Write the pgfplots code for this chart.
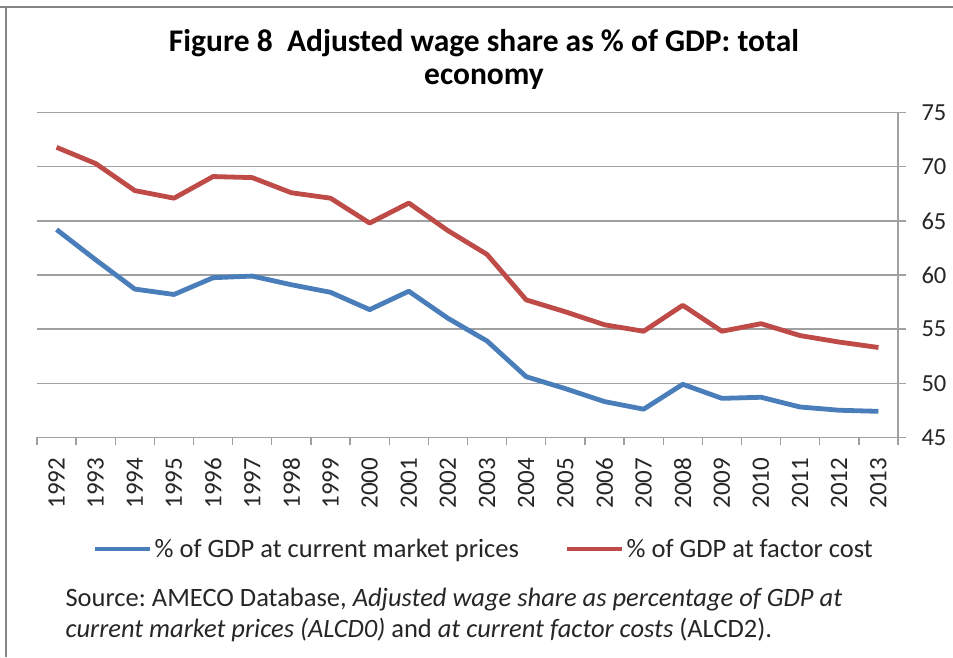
\documentclass[border=0pt]{standalone}
\usepackage{fontspec}
\setmainfont{Carlito}
\usepackage{pgfplots}
\usepackage{pgfplotstable}
\pgfplotsset{compat=1.18}
\frenchspacing

\definecolor{xlblue}{HTML}{4A7EBB}
\definecolor{xlred}{HTML}{BE4B48}
\definecolor{gridgray}{HTML}{A0A0A0}
\definecolor{framegray}{HTML}{858585}

% adjusted wage share, % of GDP
\pgfplotstableread{
year market factor
1992 64.2 71.8
1993 61.4 70.3
1994 58.7 67.8
1995 58.2 67.1
1996 59.75 69.1
1997 59.9 69.0
1998 59.1 67.6
1999 58.4 67.1
2000 56.8 64.8
2001 58.5 66.65
2002 56.0 64.1
2003 53.9 61.9
2004 50.6 57.7
2005 49.5 56.6
2006 48.3 55.4
2007 47.6 54.8
2008 49.9 57.2
2009 48.6 54.8
2010 48.7 55.5
2011 47.8 54.4
2012 47.5 53.8
2013 47.4 53.3
}\wagedata

\begin{document}
\begin{tikzpicture}
\useasboundingbox (0pt,0pt) rectangle (953pt,657pt);
\draw[framegray, line width=2.5pt] (0pt,650pt) -- (953pt,650pt);
\draw[framegray, line width=2pt] (6pt,0pt) -- (6pt,651pt);

\node[font=\fontsize{31.5}{36}\selectfont\bfseries, anchor=base] at (484pt,605pt)
  {Figure 8\ \ Adjusted wage share as \% of GDP: total};
\node[font=\fontsize{31.5}{36}\selectfont\bfseries, anchor=base] at (484pt,572pt)
  {economy};

\begin{axis}[
  at={(37pt,219.7pt)}, anchor=south west,
  scale only axis, width=861pt, height=324.6pt,
  xmin=1991.5, xmax=2013.5, ymin=45, ymax=75,
  axis x line*=bottom, axis y line*=right,
  axis line style={gridgray, line width=1.3pt},
  xtick={1992,...,2013},
  minor xtick={1991.5,1992.5,...,2013.5},
  major x tick style={draw=none},
  ytick={45,50,...,75},
  tick align=outside,
  major tick length=8pt, minor tick length=8pt,
  tick style={gridgray, line width=1.3pt},
  ymajorgrids, grid style={gridgray, line width=1.3pt},
  /pgf/number format/assume math mode=true,
  /pgf/number format/1000 sep={},
  xticklabel style={rotate=90, anchor=east, xshift=-9pt,
    font=\fontsize{25}{28}\selectfont, text=black!85},
  yticklabel style={xshift=12pt, font=\fontsize{24.5}{28}\selectfont, text=black!85},
  legend style={at={(0.519,-0.344)}, anchor=center, draw=none, fill=none,
    font=\fontsize{26.5}{30}\selectfont, text=black!85,
    /tikz/every even column/.append style={column sep=44pt}},
  legend columns=2,
  legend image code/.code={\draw[#1] (0pt,0pt) -- (55pt,0pt);},
]
\addplot[xlblue, line width=4.8pt, line join=round] table[x=year, y=market] {\wagedata};
\addlegendentry{\% of GDP at current market prices}
\addplot[xlred, line width=4.8pt, line join=round] table[x=year, y=factor] {\wagedata};
\addlegendentry{\% of GDP at factor cost}
\end{axis}

\node[font=\fontsize{26.5}{30}\selectfont, anchor=base west, text=black!85] at (62pt,51pt)
  {Source: AMECO Database, \textit{Adjusted wage share as percentage of GDP at}};
\node[font=\fontsize{26.5}{30}\selectfont, anchor=base west, text=black!85] at (62pt,20pt)
  {\textit{current market prices (ALCD0)} and \textit{at current factor costs} (ALCD2).};
\end{tikzpicture}
\end{document}
